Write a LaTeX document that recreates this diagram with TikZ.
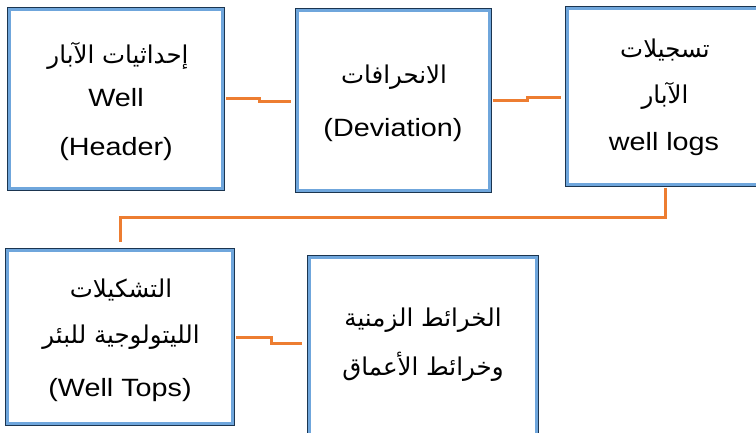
\documentclass[tikz,border=0pt]{standalone}
\usepackage{fontspec}
\setmainfont{Liberation Sans}
\newfontfamily\arabicfont[Script=Arabic]{DejaVu Sans}
\TeXXeTstate=1
\definecolor{frameDark}{HTML}{1B3550}
\definecolor{frameBlue}{HTML}{6FA6DC}
\definecolor{linkOrange}{HTML}{ED7D31}
\tikzset{
  box/.style={draw=frameDark, line width=1.6pt, fill=white, inner sep=0pt},
  band/.style={draw=frameBlue, line width=3pt},
  conn/.style={draw=linkOrange, line width=3pt},
  lat/.style={anchor=base, inner sep=0pt, font=\fontsize{25}{30}\selectfont, xscale=1.15, transform shape},
  ara/.style={anchor=base, inner sep=0pt, font=\arabicfont\fontsize{24.5}{30}\selectfont, transform shape}
}
\begin{document}
\begin{tikzpicture}[x=1pt, y=-1pt]
\useasboundingbox (0,0) rectangle (756,432);
\clip (0,0) rectangle (756,432);
\fill[white] (0,0) rectangle (756,432);
% boxes
\node[box, minimum width=216pt, minimum height=182pt] (b1) at (116,99) {};
\node[box, minimum width=195pt, minimum height=183pt] (b2) at (393.5,100.5) {};
\node[box, minimum width=194pt, minimum height=179pt] (b3) at (663,96.5) {};
\node[box, minimum width=228pt, minimum height=176pt] (b4) at (120,337) {};
\node[box, minimum width=230pt, minimum height=180pt] (b5) at (423,346) {};
\foreach \n in {b1,b2,b3,b4,b5}
  \draw[band] ([shift={(2.6,2.6)}]\n.north west) rectangle ([shift={(-2.6,-2.6)}]\n.south east);
% texts
\node[ara] (t11) at (118,63) {\beginR إحداثيات الآبار\endR};
\node[lat] (t12) at (116,106) {Well};
\node[lat] (t13) at (116,155) {(Header)};
\node[ara] (t21) at (394,83) {\beginR الانحرافات\endR};
\node[lat] (t22) at (393,136) {(Deviation)};
\node[ara] (t31) at (665,57) {\beginR تسجيلات\endR};
\node[ara] (t32) at (665,103) {\beginR الآبار\endR};
\node[lat] (t33) at (664,150) {well logs};
\node[ara] (t41) at (121,297) {\beginR التشكيلات\endR};
\node[ara] (t42) at (121,343) {\beginR الليتولوجية للبئر\endR};
\node[lat] (t43) at (120,396) {(Well Tops)};
\node[ara] (t51) at (423,326) {\beginR الخرائط الزمنية\endR};
\node[ara] (t52) at (423,375) {\beginR وخرائط الأعماق\endR};
% connectors
\coordinate (c1a) at ([shift={(1,-0.7)}]b1.east);
\coordinate (c1b) at ([shift={(-4,1)}]b2.west);
\draw[conn] (c1a) -- (c1a -| 259,0) |- (c1b);
\coordinate (c2a) at ([shift={(1,-0.5)}]b2.east);
\coordinate (c2b) at ([shift={(-4,0.5)}]b3.west);
\draw[conn] (c2a) -- (c2a -| 527,0) |- (c2b);
\coordinate (c3a) at ([shift={(1,0)}]b4.east);
\coordinate (c3b) at ([shift={(-5,-3)}]b5.west);
\draw[conn] (c3a) -- (c3a -| 271,0) |- (c3b);
\coordinate (c4a) at ([shift={(0,1)}]b3.south -| 665,0);
\coordinate (c4b) at ([shift={(0,-6)}]b4.north);
\draw[conn] (c4a) |- (c4b |- 0,217) -- (c4b);
\end{tikzpicture}
\end{document}
